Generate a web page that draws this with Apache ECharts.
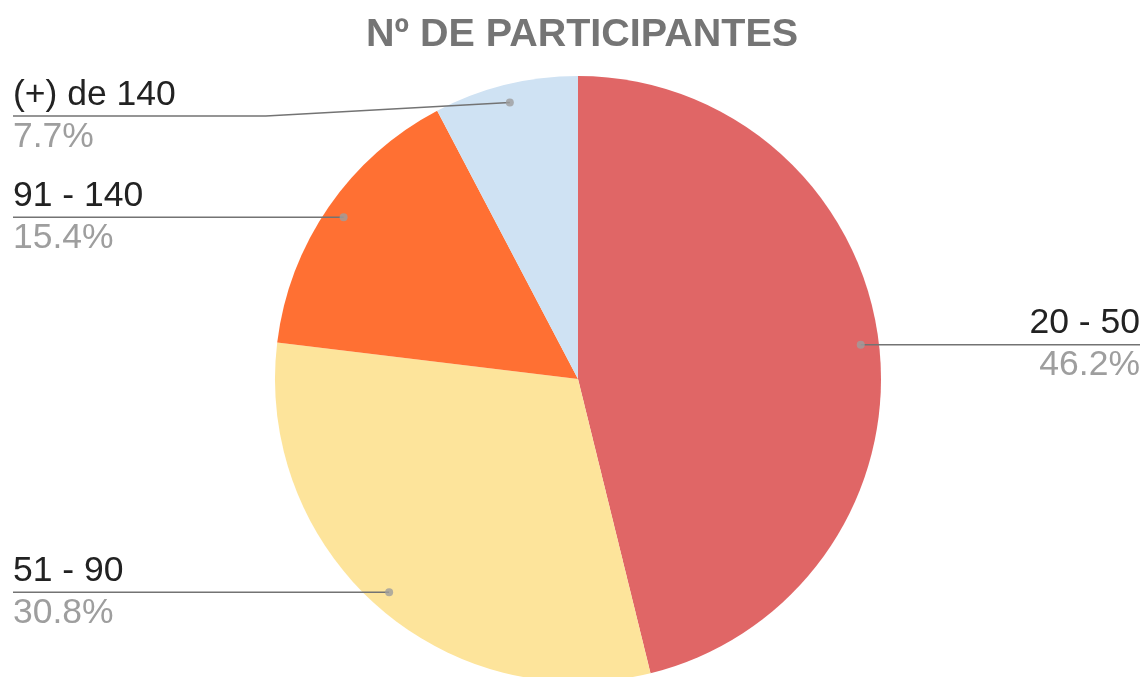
<!DOCTYPE html>
<html>
<head>
<meta charset="utf-8">
<title>Nº de participantes</title>
<script src="https://cdn.jsdelivr.net/npm/echarts@6/dist/echarts.min.js"></script>
<style>
  html, body { margin: 0; padding: 0; background: #fff; }
  #chart { width: 1147px; height: 677px; }
</style>
</head>
<body>
<div id="chart"></div>
<script>
// datos del gráfico
const categories = ['20 - 50', '51 - 90', '91 - 140', '(+) de 140'];
const counts = [6, 4, 2, 1];
const sliceColors = ['#e06666', '#fde49b', '#ff7033', '#cfe2f3'];

// layout
const PIE_CENTER = [578, 379];
const PIE_RADIUS = 303;
const DOT_RATIO = 0.94;       // where the leader line starts, inside the slice
const LABEL_TOP_LIMIT = 116;  // labels are not placed higher than this
const BEND_RUN = 244;
const EDGE_LEFT = 13;
const EDGE_RIGHT = 1140;

const total = counts.reduce((a, b) => a + b, 0);
const percents = counts.map(v => (v / total * 100).toFixed(1) + '%');
// middle of each slice, in data units (for the dots)
const midValues = counts.map((v, i) => counts.slice(0, i).reduce((a, b) => a + b, 0) + v / 2);

const chart = echarts.init(document.getElementById('chart'));

function placeLabel(params) {
    let edge = params.labelLinePoints && params.labelLinePoints[0];
    if (!edge) {
        const a = (90 - midValues[params.dataIndex] / total * 360) * Math.PI / 180;
        edge = [PIE_CENTER[0] + Math.cos(a) * PIE_RADIUS, PIE_CENTER[1] - Math.sin(a) * PIE_RADIUS];
    }
    const dx = edge[0] - PIE_CENTER[0];
    const dy = edge[1] - PIE_CENTER[1];
    const dot = [PIE_CENTER[0] + dx * DOT_RATIO, PIE_CENTER[1] + dy * DOT_RATIO];
    const left = dx < 0;
    const y = Math.max(dot[1], LABEL_TOP_LIMIT);
    const endX = left ? EDGE_LEFT : EDGE_RIGHT;
    const pts = [dot];
    if (y !== dot[1]) {
        pts.push([dot[0] + (left ? -BEND_RUN : BEND_RUN), y]);
    }
    pts.push([endX, y]);
    return {
        x: endX,
        y: y,
        align: left ? 'left' : 'right',
        verticalAlign: 'middle',
        labelLinePoints: pts
    };
}

const pieData = categories.map((name, i) => ({
    name: name,
    value: counts[i],
    itemStyle: { color: sliceColors[i] }
}));

chart.setOption({
    backgroundColor: '#ffffff',
    animation: false,
    title: {
        text: 'Nº DE PARTICIPANTES',
        left: 361,
        top: 10,
        textStyle: {
            fontFamily: 'Liberation Sans',
            fontSize: 39.5,
            fontWeight: 'bold',
            color: '#757575'
        }
    },
    polar: { center: PIE_CENTER, radius: PIE_RADIUS },
    angleAxis: { type: 'value', min: 0, max: total, startAngle: 90, clockwise: true, show: false },
    radiusAxis: { type: 'value', min: 0, max: 1, show: false },
    series: [
        {
            // the slices
            type: 'pie',
            center: PIE_CENTER,
            radius: PIE_RADIUS,
            startAngle: 90,
            clockwise: true,
            silent: true,
            z: 2,
            data: pieData,
            label: { show: false },
            labelLine: { show: false }
        },
        {
            // same pie, invisible, only for the labels and leader lines (drawn over the slices)
            type: 'pie',
            center: PIE_CENTER,
            radius: PIE_RADIUS,
            startAngle: 90,
            clockwise: true,
            avoidLabelOverlap: false,
            silent: true,
            z: 4,
            data: pieData.map(d => ({ name: d.name, value: d.value })),
            itemStyle: { color: 'rgba(0,0,0,0)' },
            label: {
                show: true,
                position: 'outside',
                formatter: p => '{n|' + p.name + '}\n{p|' + percents[p.dataIndex] + '}',
                rich: {
                    n: { fontFamily: 'Liberation Sans', fontSize: 35.5, lineHeight: 42, color: '#222222' },
                    p: { fontFamily: 'Liberation Sans', fontSize: 35.5, lineHeight: 42, color: '#9e9e9e' }
                }
            },
            labelLine: {
                show: true,
                length: 0,
                length2: 0,
                smooth: false,
                lineStyle: { color: '#737373', width: 1.5 }
            },
            labelLayout: placeLabel
        },
        {
            type: 'scatter',
            coordinateSystem: 'polar',
            data: midValues.map(m => [DOT_RATIO, m]),
            symbol: 'circle',
            symbolSize: 8,
            itemStyle: { color: '#9e9e9e' },
            silent: true,
            z: 5
        }
    ]
});
</script>
</body>
</html>
